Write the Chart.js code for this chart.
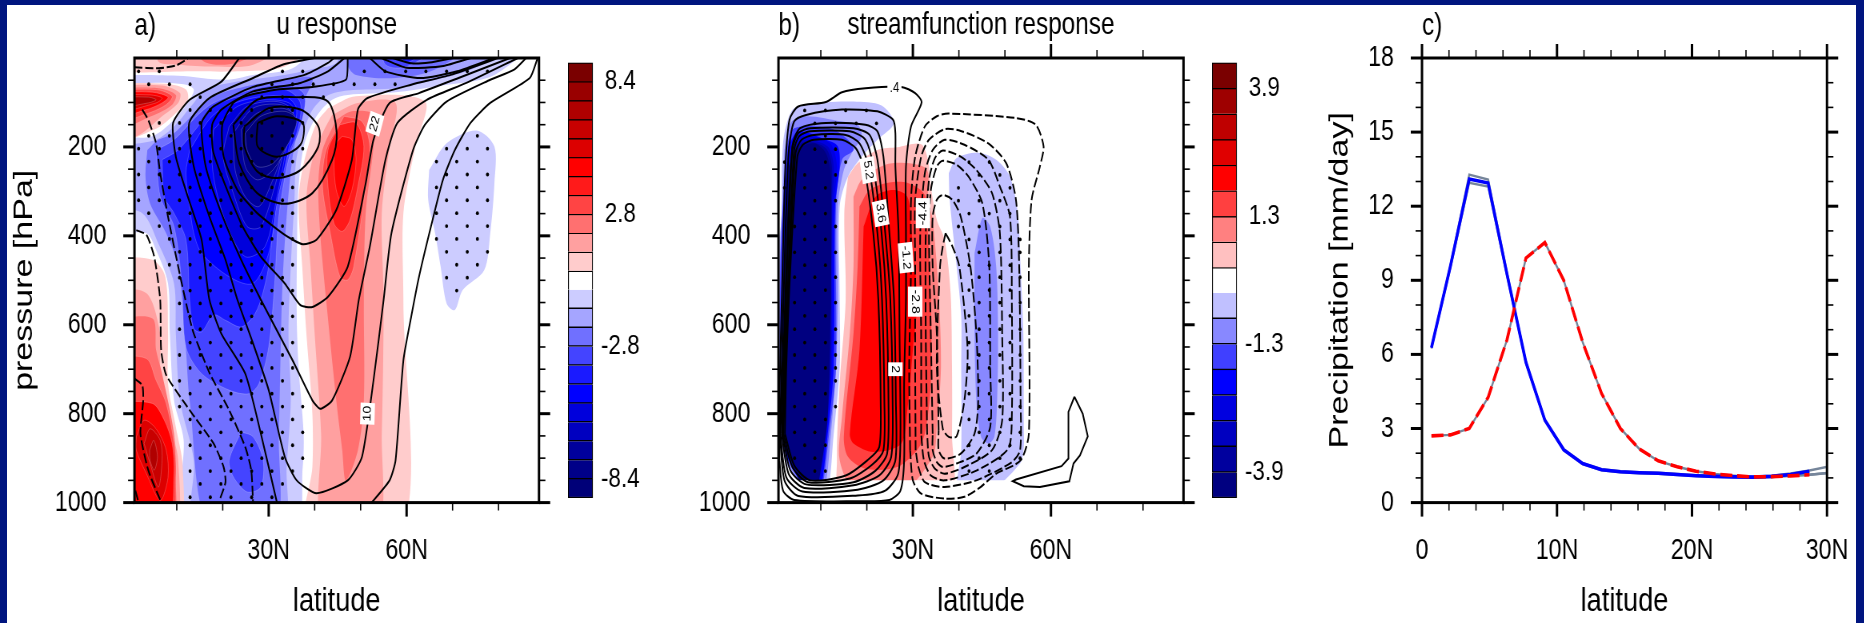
<!DOCTYPE html>
<html>
<head>
<meta charset="utf-8">
<title>u, streamfunction and precipitation response</title>
<script src="https://cdn.jsdelivr.net/npm/chart.js@4"></script>
<style>
    html, body { margin: 0; padding: 0; background: #00157f; overflow: hidden; }
    #sheet { position: absolute; left: 7px; top: 5px; width: 1849px; height: 618px; background: #fff; }
    /* the figure is squeezed sideways, so every canvas is too */
    canvas { position: absolute; top: 0; transform: scaleX(0.8); transform-origin: 0 0; }
</style>
</head>
<body>
<div id="sheet"></div>
<canvas id="panelA" width="690" height="623" style="left:8px"></canvas>
<canvas id="barA" width="112" height="623" style="left:560px"></canvas>
<canvas id="panelB" width="690" height="623" style="left:651.5px"></canvas>
<canvas id="barB" width="112" height="623" style="left:1204px"></canvas>
<canvas id="panelC" width="672" height="623" style="left:1318px"></canvas>
<script>
// Colour bars
const uBoxes = [8.8, 8, 7.2, 6.4, 5.6, 4.8, 4, 3.2, 2.4, 1.6, 0.8, 0, -0.8, -1.6, -2.4, -3.2, -4, -4.8, -5.6, -6.4, -7.2, -8, -8.8];
const uColors = ['#7a0000', '#990000', '#b00000', '#c80000', '#dc0000', '#ff0000', '#ff1a1a', '#ff4444', '#ff7070', '#ffa0a0', '#ffcccc', '#ffffff',
    '#ccccff', '#a5a5ff', '#7070ff', '#4444ff', '#1a1aff', '#0000ff', '#0000dc', '#0000c0', '#00009c', '#000088', '#000078'];
const uBoxLabels = [8.4, 2.8, -2.8, -8.4];
const psiBoxes = [4.16, 3.64, 3.12, 2.6, 2.08, 1.56, 1.04, 0.52, 0, -0.52, -1.04, -1.56, -2.08, -2.6, -3.12, -3.64, -4.16];
const psiColors = ['#7a0000', '#9e0000', '#bf0000', '#e00000', '#ff0000', '#ff4040', '#ff8080', '#ffc0c0', '#ffffff',
    '#c0c0ff', '#8888ff', '#4040ff', '#0000ff', '#0000e0', '#0000c0', '#00009e', '#000080'];
const psiBoxLabels = [3.9, 1.3, -1.3, -3.9];

// Axis ticks
const latMajor = [30, 60];
const latMinor = [10, 20, 40, 50, 70, 80];
const presMajor = [200, 400, 600, 800, 1000];
const presMinor = [50, 100, 150, 250, 300, 350, 450, 500, 550, 650, 700, 750, 850, 900, 950];
const precLatMajor = [0, 10, 20, 30];
const precLatMinor = [2, 4, 6, 8, 12, 14, 16, 18, 22, 24, 26, 28];
const precMajor = [0, 3, 6, 9, 12, 15, 18];
const precMinor = [1, 2, 4, 5, 7, 8, 10, 11, 13, 14, 16, 17];

// a) u response, filled regions: [level, [lat, pressure] outline]
const uRegions = [
    [0.8, [[0.8, 0], [40.4, 0], [33.5, 19], [23.2, 30], [14.6, 30], [0.8, 23]]],
    [1.6, [[6, 0], [35.2, 0], [26.6, 15], [18, 19], [10.3, 15], [6, 8]]],
    [2.4, [[12, 0], [31.8, 0], [23.2, 10], [16.3, 10]]],
    [-0.8, [[64.9, 252], [68.7, 192], [75.2, 163], [79.1, 199], [79.1, 282], [78.2, 394], [76.9, 477], [72.2, 522], [70.5, 567], [68.7, 552], [67.4, 469], [66.2, 394], [64.7, 319]]],
    [-0.8, [[0.8, 38], [10.3, 40], [20.6, 49], [26.6, 38], [35.2, 23], [42.9, 0], [86.8, 0], [79.1, 38], [66.2, 64], [57.6, 77], [47.2, 83], [43.8, 94], [40.4, 131], [37.8, 192], [36.5, 289], [36.2, 394], [36.1, 582], [36.5, 695], [37.6, 845], [37.4, 920], [35.6, 1000], [11.5, 1000], [11.5, 860], [9.4, 770], [8.5, 620], [8.1, 507], [5.5, 432], [3.4, 394], [0.8, 387], [0.8, 192], [4.7, 176], [9.4, 139], [12.8, 94], [13.7, 71], [12, 60], [7.7, 56], [0.8, 56]]],
    [-1.6, [[0.8, 338], [0.8, 214], [5.5, 184], [9.4, 154], [13.7, 101], [16.3, 71], [23.2, 53], [33.5, 38], [40.4, 23], [44.7, 11], [47.2, 0], [85.1, 0], [74.8, 23], [66.2, 49], [57.6, 68], [47.2, 73], [42.5, 86], [39.1, 124], [36.1, 222], [35.6, 319], [34.8, 469], [34.3, 620], [34.8, 770], [33.9, 920], [33.1, 1000], [13.7, 1000], [13.7, 905], [10.7, 770], [9.8, 620], [9.4, 507], [6, 417], [2.5, 349]]],
    [-2.4, [[3.6, 207], [6, 184], [9.4, 169], [14.6, 116], [18, 86], [24.9, 64], [33.5, 49], [39.5, 45], [37.8, 94], [36.9, 139], [35.2, 222], [33.9, 357], [33, 507], [32.6, 657], [32.2, 845], [31.3, 1000], [17.1, 1000], [12.8, 770], [12, 657], [10.3, 469], [7.7, 394], [4.2, 327], [3.2, 267]]],
    [-2.4, [[49, 0], [74.8, 0], [66.2, 26], [57.6, 45], [49, 38], [47.2, 15]]],
    [-3.2, [[54.1, 0], [68.7, 0], [60.1, 19], [55.4, 15]]],
    [-4, [[56.7, 0], [65.3, 0], [60.1, 10]]],
    [-3.2, [[5.5, 207], [9.4, 184], [14.6, 128], [18, 101], [24.9, 75], [33.5, 60], [37.8, 83], [36.9, 154], [34.3, 229], [32.2, 357], [31.3, 507], [30, 650], [27.9, 732], [25.7, 755], [21.4, 747], [15.4, 710], [12, 650], [11.1, 507], [9.4, 379], [6.4, 312]]],
    [-3.2, [[24, 841], [21.4, 905], [22.3, 942], [25.3, 976], [28.3, 965], [28.8, 905], [26.6, 852]]],
    [-4, [[6.8, 229], [10.3, 207], [14.6, 154], [18, 109], [24.9, 83], [33.5, 71], [36.9, 101], [36.1, 169], [33.5, 237], [31.3, 357], [30, 469], [28.3, 544], [26.6, 582], [24, 605], [20.6, 590], [18, 578], [15.4, 616], [13.7, 608], [12.8, 544], [12, 409], [9.4, 349], [7.3, 312]]],
    [-4.8, [[12.8, 207], [18, 128], [24.9, 94], [33.5, 86], [36.1, 116], [34.3, 207], [31.8, 327], [30, 439], [26.6, 507], [21.4, 492], [15.4, 439], [13.7, 394], [12.8, 334], [12, 259]]],
    [-5.6, [[18, 161], [23.2, 109], [30, 94], [35.2, 109], [33.9, 199], [31.8, 312], [29.2, 424], [24.9, 447], [21, 379], [18.4, 289], [17.6, 222]]],
    [-6.4, [[21.4, 154], [25.3, 109], [31.8, 98], [35.2, 120], [33.5, 199], [31.3, 289], [28.3, 379], [25.3, 379], [22.3, 304], [20.1, 222]]],
    [-7.2, [[22.3, 169], [26.6, 113], [32.6, 105], [35.2, 128], [33.5, 199], [30.9, 274], [27.9, 334], [24.9, 312], [22.7, 252]]],
    [-8, [[24, 161], [27.5, 124], [33, 113], [35.6, 131], [33.9, 199], [30.9, 252], [27.5, 274], [24.9, 244]]],
    [-8.8, [[24.9, 169], [28.3, 131], [33.5, 120], [36.1, 139], [34.3, 192], [30.9, 237], [27.5, 244], [25.3, 207]]],
    [0.8, [[42.9, 113], [49, 86], [64, 98], [61.9, 199], [59.3, 349], [59.3, 544], [59.1, 1000], [38.2, 1000], [39.5, 920], [39.5, 800], [38.2, 620], [37.3, 470], [36.5, 319], [37.8, 229], [40.4, 146]]],
    [1.6, [[43.8, 128], [49.4, 101], [57.6, 101], [56.3, 199], [54.6, 349], [55, 544], [54.6, 845], [53.7, 1000], [41.7, 1000], [41.4, 845], [40, 620], [39.1, 469], [38.2, 319], [39.5, 229], [41.7, 169]]],
    [2.4, [[44.7, 139], [48.1, 120], [52.8, 128], [52.8, 199], [51.1, 349], [50.7, 544], [50.7, 770], [49.4, 882], [46.8, 950], [46, 882], [44.7, 770], [42.5, 544], [41.2, 394], [40.8, 282], [41.7, 207]]],
    [3.2, [[46.4, 131], [50.3, 143], [52, 199], [51.1, 289], [48.5, 469], [47.2, 499], [45.5, 492], [43.4, 394], [41.7, 289], [42.5, 207]]],
    [4, [[45.5, 150], [49, 146], [50.7, 199], [49.4, 289], [47.7, 364], [46, 390], [44.2, 372], [42.9, 289], [42.9, 207]]],
    [4.8, [[46, 176], [48.1, 184], [49, 229], [48.1, 297], [46.4, 334], [44.7, 297], [44.2, 229], [44.7, 192]]],
    [0.8, [[0.8, 447], [4.7, 454], [7.5, 492], [8.1, 620], [8.1, 732], [9.8, 830], [11.3, 920], [10.3, 1000], [0.8, 1000]]],
    [1.6, [[0.8, 522], [3.4, 529], [6.4, 620], [6.4, 695], [8.1, 807], [10.3, 905], [9.4, 1000], [0.8, 1000]]],
    [2.4, [[0.8, 590], [4.7, 586], [5.5, 657], [6.8, 710], [9.4, 845], [9.8, 950], [9, 1000], [0.8, 1000]]],
    [3.2, [[0.8, 672], [3.4, 676], [5.5, 725], [7.7, 777], [9.4, 867], [9.8, 935], [8.5, 1000], [0.8, 1000]]],
    [4.8, [[0.8, 774], [4.7, 777], [7.3, 815], [9, 867], [9.4, 935], [8.1, 1000], [1.2, 1000], [0.8, 900]]],
    [5.6, [[1.2, 852], [2.9, 815], [5.5, 834], [7.7, 882], [8.1, 943], [6.4, 995], [3.4, 935], [1.2, 882]]],
    [6.4, [[2.9, 867], [4.2, 834], [6.4, 860], [6.8, 905], [6, 965], [4.2, 912]]],
    [7.2, [[4.1, 882], [5, 860], [5.8, 897], [5.1, 927], [4.2, 905]]],
    [0.8, [[0.8, 56], [7.7, 58], [12, 71], [12.4, 94], [9.4, 128], [5.1, 161], [0.8, 188]]],
    [1.6, [[0.8, 62], [6.8, 62], [10.7, 79], [10.3, 101], [6.8, 131], [1.2, 176], [0.8, 176]]],
    [2.4, [[0.8, 68], [6, 68], [9.8, 83], [9, 105], [5.1, 128], [0.8, 162]]],
    [3.2, [[0.8, 73], [5.5, 71], [9, 86], [7.7, 105], [3.8, 124], [0.8, 147]]],
    [4.8, [[0.8, 77], [4.7, 77], [8.1, 88], [6.8, 101], [3.4, 116], [0.8, 135]]],
    [5.6, [[0.8, 83], [4.2, 83], [6.8, 90], [5.5, 101], [0.8, 124]]],
    [7.2, [[0.8, 88], [3.8, 88], [5.5, 94], [3.8, 101], [0.8, 113]]]
];

// a) climatological u contours
const uSolidClosed = [
    [[27.6, 146], [31.8, 131], [37.4, 146], [36.9, 195], [31.8, 222], [27.6, 199]],
    [[24.7, 154], [30, 113], [36.9, 116], [40.8, 154], [40.8, 199], [36.9, 252], [31.8, 270], [27.5, 255], [24.7, 199]],
    [[22.3, 150], [27.5, 94], [36.1, 88], [42.9, 98], [44.8, 169], [43.8, 229], [39.5, 304], [33.5, 328], [27.5, 304], [23.6, 237]]
];
const uSolidOpen = [
    [[47.2, 0], [46.8, 49], [39.5, 65], [31.8, 71], [24.9, 86], [22.3, 101], [19.9, 150], [20.2, 222], [23.2, 297], [27.5, 349], [33.5, 398], [37.4, 419], [40.4, 409], [44.7, 342], [48.1, 229], [49.4, 116], [51.5, 90], [61, 60], [69.6, 38], [79.9, 0]],
    [[46.5, 0], [42.9, 30], [36.9, 56], [26.6, 75], [19.7, 116], [17.7, 150], [18, 214], [24, 372], [28.3, 447], [33.5, 507], [36.9, 556], [39.5, 560], [42.9, 537], [47.2, 469], [51.1, 282], [52.8, 184], [56.3, 101], [62.7, 79], [71.3, 45], [82.5, 0]],
    [[44.2, 0], [42.9, 11], [37.8, 38], [26.6, 65], [18, 109], [15.4, 146], [16.3, 244], [19.7, 349], [24, 454], [28.3, 544], [35.2, 680], [39.5, 770], [41.2, 789], [43.8, 770], [47.7, 672], [49.6, 544], [52, 424], [55.4, 229], [58, 146], [64.4, 94], [73, 56], [84.2, 0]],
    [[39.9, 0], [33, 15], [26.6, 45], [17.1, 90], [12.7, 146], [13.7, 244], [17.1, 357], [20.6, 454], [23.2, 544], [26.6, 642], [30, 747], [33.5, 897], [36.1, 950], [40.4, 979], [47.2, 950], [50.3, 897], [52.8, 725], [55, 544], [56.7, 394], [61.4, 207], [64, 150], [68.7, 98], [78.2, 49], [83.4, 26], [86, 0]],
    [[23.6, 0], [19.7, 53], [12.8, 94], [9.2, 146], [9.8, 222], [12.4, 312], [15.4, 409], [17.1, 544], [19.7, 620], [24.9, 710], [28.3, 845], [31.8, 1000]],
    [[88.5, 0], [86.8, 45], [78.2, 101], [73.9, 146], [70.5, 207], [67.9, 274], [65.3, 379], [62.7, 492], [61, 582], [59.3, 680], [57.6, 905], [56.3, 950], [52.4, 1000]],
    [[52, 0], [55.4, 30], [63, 45], [71, 30], [79, 0]],
    [[54.5, 0], [60, 22], [68, 18], [74, 0]],
    [[57, 0], [61, 12], [65, 10], [70, 0]]
];
const uDashedOpen = [
    [[0.8, 21], [6, 23], [9.8, 17], [12.4, 2]],
    [[2.5, 116], [3.8, 139], [5.5, 192], [6.4, 259], [8.1, 357], [10.3, 469], [12.7, 582], [13.7, 620], [17.2, 710], [21.4, 792], [24.9, 875], [26.2, 927], [26.6, 1000]],
    [[1.2, 387], [3.4, 398], [5.1, 447], [6.4, 544], [6.6, 657], [7.7, 713], [12.8, 792], [18, 867], [20.2, 920], [20.6, 954], [19.3, 995]],
    [[0.8, 721], [2.5, 736], [2.7, 770], [2.1, 845], [3.8, 927], [6.6, 999]],
    [[1, 973], [1.7, 1000]]
];
const uLabels = [['22', 53.1, 148], ['10', 51.5, 800]];
const uLabelAngles = [-72, -88];

// a) stippling, one row per pressure level: [pressure, latitudes]
const uDots = [
    [30, [1.7, 6.2, 33, 37.4, 50.8, 55.3, 59.8, 64.2, 68.7, 73.2, 77.6]],
    [59, [3.9, 8.4, 12.9, 30.7, 35.2, 39.7, 44.1, 48.6, 53.1, 57.5]],
    [88, [15.1, 28.5, 33, 37.4, 41.9]],
    [117, [12.9, 17.3, 21.8, 26.3, 30.7, 35.2]],
    [146, [6.2, 10.6, 15.1, 19.6, 24, 28.5, 33, 37.4]],
    [175, [3.9, 8.4, 12.9, 17.3, 21.8, 26.3, 30.7, 35.2, 75.4]],
    [204, [1.7, 6.2, 10.6, 15.1, 19.6, 24, 28.5, 33, 37.4, 68.7, 73.2, 77.6]],
    [233, [3.9, 8.4, 12.9, 17.3, 21.8, 26.3, 30.7, 35.2, 66.5, 70.9, 75.4]],
    [262, [1.7, 6.2, 10.6, 15.1, 19.6, 24, 28.5, 33, 68.7, 73.2, 77.6]],
    [291, [3.9, 8.4, 12.9, 17.3, 21.8, 26.3, 30.7, 35.2, 66.5, 70.9, 75.4]],
    [320, [1.7, 6.2, 10.6, 15.1, 19.6, 24, 28.5, 33, 68.7, 73.2, 77.6]],
    [349, [3.9, 8.4, 12.9, 17.3, 21.8, 26.3, 30.7, 35.2, 66.5, 70.9, 75.4]],
    [378, [6.2, 10.6, 15.1, 19.6, 24, 28.5, 33, 68.7, 73.2, 77.6]],
    [407, [8.4, 12.9, 17.3, 21.8, 26.3, 30.7, 35.2, 66.5, 70.9, 75.4]],
    [436, [10.6, 15.1, 19.6, 24, 28.5, 33, 68.7, 73.2, 77.6]],
    [465, [8.4, 12.9, 17.3, 21.8, 26.3, 30.7, 35.2, 70.9, 75.4]],
    [494, [10.6, 15.1, 19.6, 24, 28.5, 33, 68.7, 73.2]],
    [523, [12.9, 17.3, 21.8, 26.3, 30.7, 35.2, 70.9]],
    [552, [10.6, 15.1, 19.6, 24, 28.5, 33]],
    [581, [12.9, 17.3, 21.8, 26.3, 30.7, 35.2]],
    [610, [10.6, 15.1, 19.6, 24, 28.5, 33]],
    [640, [12.9, 17.3, 21.8, 26.3, 30.7, 35.2]],
    [668, [10.6, 15.1, 19.6, 24, 28.5, 33]],
    [697, [12.9, 17.3, 21.8, 26.3, 30.7, 35.2]],
    [726, [10.6, 15.1, 19.6, 24, 28.5, 33]],
    [755, [12.9, 17.3, 21.8, 26.3, 30.7, 35.2]],
    [784, [10.6, 15.1, 19.6, 24, 28.5, 33, 37.4]],
    [813, [12.9, 17.3, 21.8, 26.3, 30.7, 35.2]],
    [842, [15.1, 19.6, 24, 28.5, 33, 37.4]],
    [871, [12.9, 17.3, 21.8, 26.3, 30.7, 35.2]],
    [900, [15.1, 19.6, 24, 28.5, 33, 37.4]],
    [929, [12.9, 17.3, 21.8, 26.3, 30.7, 35.2]],
    [958, [15.1, 19.6, 24, 28.5, 33]],
    [988, [12.9, 17.3, 21.8, 26.3, 30.7]]
];

// b) streamfunction response, filled regions (the data stops at 950 hPa, see psiFloor)
const psiRegions = [
    [-0.52, [[1.5, 244], [2.1, 169], [4.2, 113], [11.1, 100], [17.1, 98], [23.2, 107], [25.9, 146], [22.3, 184], [18.9, 222], [15.9, 267], [14.1, 334], [14.1, 544], [14.1, 695], [12.8, 845], [11.2, 985], [8, 985], [2.5, 913], [1.2, 845], [0.8, 620], [1.1, 394]]],
    [-1.04, [[2.1, 207], [3.4, 146], [6.8, 131], [14.6, 143], [18, 150], [18.9, 176], [16.7, 214], [15, 252], [13.7, 334], [13.7, 544], [13.3, 695], [12.2, 845], [10.5, 985], [8, 985], [2.7, 909], [1.3, 845], [1.1, 469]]],
    [-1.56, [[2.5, 199], [4.2, 158], [12, 158], [15.9, 184], [17.1, 207], [14.6, 229], [13.3, 334], [13.3, 695], [11.8, 845], [9.9, 985], [8, 985], [2.9, 906], [1.5, 845], [1.2, 469]]],
    [-2.08, [[2.9, 199], [5.1, 165], [11.1, 184], [13.7, 199], [14.1, 244], [13.1, 334], [12.8, 695], [11.5, 845], [9.7, 985], [8, 985], [3, 905], [1.7, 845], [1.7, 394]]],
    [-2.6, [[3.4, 199], [6, 176], [12, 192], [13.5, 244], [12.7, 334], [12.4, 695], [11.2, 845], [9.3, 985], [8.2, 985], [3.2, 903], [1.8, 845], [1.8, 394]]],
    [-3.12, [[3.6, 203], [6.4, 184], [11.5, 199], [12.8, 244], [12.4, 334], [12.2, 695], [11, 845], [9, 985], [8.4, 985], [3.4, 901], [2, 845], [2, 394]]],
    [-3.64, [[3.8, 203], [6.8, 188], [11.1, 203], [12.4, 244], [12.2, 334], [12, 695], [10.7, 845], [8.9, 985], [8.6, 985], [3.6, 899], [2.2, 845], [2.2, 394]]],
    [-4.16, [[3, 244], [4.7, 207], [8.5, 192], [11.1, 214], [12.2, 267], [12.2, 544], [12, 620], [11.5, 807], [10.3, 905], [8.8, 985], [7.5, 985], [3.8, 920], [2.5, 882], [2.1, 770], [2.3, 469]]],
    [0.52, [[15.9, 267], [18, 237], [22.3, 207], [26.6, 201], [31.8, 194], [33.3, 229], [33.9, 289], [35.2, 364], [36.9, 409], [38.2, 529], [38.5, 695], [38.5, 845], [38, 985], [14.4, 985], [13.5, 905], [14.1, 732], [15.4, 544], [15.1, 349]]],
    [1.04, [[17.1, 312], [18.9, 274], [24, 240], [29.2, 237], [33.1, 252], [33.3, 319], [34.3, 364], [35.6, 529], [36.1, 695], [35.2, 830], [34.3, 897], [27, 985], [18, 985], [14.1, 905], [14.6, 807], [16.3, 620], [17.1, 469]]],
    [1.56, [[18.4, 334], [20.6, 297], [24.9, 280], [29.2, 282], [32.6, 308], [33.1, 364], [33.9, 544], [33.9, 732], [32.6, 845], [30.9, 882], [26.6, 920], [19.7, 924], [15.9, 897], [15, 852], [17.1, 620], [18, 469]]],
    [2.08, [[19.3, 379], [21.9, 312], [25.7, 297], [28.8, 312], [29.6, 379], [30.9, 544], [30, 657], [28.8, 792], [27.5, 867], [21.4, 886], [17.1, 867], [16.3, 845], [18.4, 657]]],
    [-0.52, [[37.8, 259], [39.5, 225], [44.2, 213], [48.1, 229], [51.1, 267], [52.8, 349], [53.4, 469], [54, 620], [54.1, 830], [54.1, 875], [53.3, 912], [45.5, 985], [39.7, 985], [40.5, 882], [40.5, 695], [40.5, 582], [39.5, 469], [38, 319]]],
    [-1.04, [[43.4, 439], [45.1, 360], [46.8, 379], [48.1, 469], [48.5, 620], [48.3, 770], [47.7, 852], [46.4, 867], [44.8, 852], [43.8, 770], [43.4, 620]]]
];
const psiFloor = [[-5, 950], [95, 950], [95, 1060], [-5, 1060]];

// b) contours, all closed
const psiSolid = [
    [[1, 905], [1.8, 973], [4.2, 994], [18, 997], [24.9, 994], [27.3, 973], [28.1, 905], [28.1, 732], [28.5, 544], [28.5, 394], [28.5, 244], [29.6, 154], [31.9, 100], [30.5, 79], [27.5, 65], [19.7, 68], [14.6, 77], [11.1, 99], [5.1, 109], [3.2, 139], [2.3, 244], [1.7, 469], [1, 770]],
    [[1.1, 845], [2.1, 950], [5.1, 985], [18, 984], [24, 973], [26.8, 935], [27.3, 845], [27.1, 620], [26.9, 394], [26.2, 244], [26.2, 169], [25.7, 139], [22.3, 120], [14.6, 116], [6.8, 128], [4.2, 143], [3, 214], [2.1, 469], [1.5, 695]],
    [[1.2, 845], [2.5, 943], [6, 975], [18, 971], [23.6, 950], [26.2, 905], [26.3, 770], [25.9, 544], [24.9, 394], [23.6, 222], [22.3, 165], [19.7, 150], [11.1, 146], [5.5, 158], [3.8, 199], [2.5, 469], [1.8, 695]],
    [[1.5, 845], [3, 935], [6.4, 967], [17.1, 961], [22.7, 939], [25.3, 897], [25.6, 770], [25.1, 544], [24, 394], [22.3, 229], [20.6, 173], [17.1, 158], [7.7, 158], [5.1, 169], [3.8, 207], [2.7, 469], [2, 695]],
    [[1.7, 845], [3.4, 928], [6.8, 959], [17.1, 954], [21.9, 928], [24.4, 890], [24.7, 770], [24.2, 544], [23.2, 394], [21.4, 244], [19.7, 184], [16.3, 165], [7.7, 165], [5.3, 176], [4.2, 207], [3, 469], [2.2, 695]],
    [[1.9, 845], [3.8, 920], [7.2, 954], [16.3, 946], [21, 916], [23.6, 882], [23.8, 770], [23.3, 544], [22.3, 394], [20.4, 244], [18.4, 192], [15.4, 173], [8.5, 173], [5.8, 184], [4.5, 214], [3.2, 469], [2.3, 695]],
    [[2.2, 845], [4.2, 916], [7.7, 950], [15.4, 939], [20.1, 905], [22.7, 875], [23, 770], [22.5, 544], [21.4, 394], [19.5, 252], [17.6, 203], [14.6, 184], [8.5, 184], [6.1, 195], [4.9, 222], [3.4, 469], [2.5, 695]]
];
const psiDashed = [
    [[29.4, 882], [29.2, 695], [29.6, 469], [29.6, 319], [30.5, 222], [32.6, 154], [35.2, 131], [37.8, 125], [52.4, 135], [56.7, 150], [58.4, 199], [57.6, 244], [55.8, 319], [55.2, 469], [55.2, 845], [53.4, 905], [48.1, 935], [44.7, 965], [41.2, 987], [36.9, 991], [31.8, 980], [30, 950]],
    [[30.6, 882], [30.5, 695], [30.5, 469], [30.5, 319], [31.8, 222], [33.5, 184], [36.9, 160], [40.4, 164], [46.4, 192], [50.3, 237], [52.4, 319], [53.1, 469], [53.4, 770], [53.3, 882], [51.5, 909], [43.8, 950], [36.9, 965], [32.6, 954], [31.2, 920]],
    [[31.8, 845], [31.8, 620], [31.6, 394], [32.6, 259], [34.3, 207], [36.9, 184], [41.2, 195], [46.4, 229], [48.9, 289], [51.1, 357], [51.5, 544], [51.5, 807], [50.7, 879], [43.8, 928], [36.9, 950], [33.9, 939], [32.4, 905]],
    [[33.1, 845], [32.8, 620], [32.8, 394], [33.5, 274], [34.8, 225], [36.5, 208], [40.4, 222], [43.8, 252], [47.2, 304], [48.9, 394], [49.4, 620], [49.4, 815], [47.2, 882], [41.2, 920], [36.9, 935], [34.8, 924], [33.5, 897]],
    [[34.3, 845], [33.9, 620], [33.5, 394], [33.9, 297], [35.2, 244], [36.5, 231], [39.5, 240], [42.1, 267], [45.1, 327], [46.6, 469], [46.8, 695], [46.8, 830], [43.8, 890], [39.5, 912], [36.5, 920], [35.2, 909], [34.3, 882]],
    [[35.6, 837], [35.2, 620], [34.3, 469], [34.3, 357], [35.2, 319], [36.5, 308], [38.6, 319], [40.4, 357], [42.5, 469], [43.8, 620], [44.2, 770], [43.4, 845], [40.4, 890], [36.9, 901], [35.6, 882]],
    [[37.1, 394], [38.6, 424], [40.1, 469], [41.9, 657], [41.2, 770], [39.5, 851], [37.8, 852], [36.5, 834], [35.2, 695], [35.9, 469], [36.5, 424]]
];
const psiIsland = [[65.1, 762], [63.8, 796], [63.8, 901], [62.3, 918], [52.4, 948], [51.7, 952], [54.1, 963], [57.6, 965], [64, 952], [64.9, 912], [66.3, 894], [68, 851], [66.9, 800], [65.1, 762]];
const psiLabels = [['.4', 26, 68], ['5.2', 20.3, 252], ['3.6', 23, 349], ['-1.2', 28.5, 449], ['-2.8', 30.5, 548], ['2', 26.2, 700], ['-4.4', 32.2, 349]];
const psiLabelAngles = [0, 80, 80, 85, 90, 90, -90];

// b) stippling
const psiDots = [
    [118, [6.5, 11, 15.4, 19.9]],
    [147, [8.7, 13.2, 17.7, 22.1]],
    [175, [11]],
    [205, [8.7, 13.2]],
    [234, [2.1, 11, 15.4, 42.2, 46.6]],
    [263, [6.5, 13.2, 44.4, 48.9]],
    [292, [2.1, 6.5, 11, 39.9, 51.1]],
    [321, [8.7, 13.2, 39.9, 44.4, 48.9]],
    [350, [6.5, 11, 42.2, 46.6, 51.1]],
    [379, [4.3, 8.7, 13.2, 39.9, 44.4, 48.9]],
    [408, [6.5, 11, 42.2, 51.1, 53.3]],
    [437, [4.3, 8.7, 13.2, 44.4, 48.9, 53.3]],
    [466, [6.5, 11, 42.2, 46.6, 51.1]],
    [493, [4.3, 8.7, 13.2, 44.4, 48.9, 53.3]],
    [522, [6.5, 11, 42.2, 46.6, 51.1]],
    [550, [4.3, 8.7, 13.2, 44.4, 48.9, 53.3]],
    [580, [6.5, 11, 42.2, 46.6, 51.1]],
    [610, [4.3, 8.7, 13.2, 44.4, 48.9, 53.3]],
    [640, [6.5, 11, 13.2, 42.2, 46.6, 51.1]],
    [668, [4.3, 8.7, 13.2, 44.4, 48.9, 53.3]],
    [697, [6.5, 11, 13.2, 42.2, 46.6, 51.1]],
    [726, [4.3, 8.7, 13.2, 44.4, 48.9, 53.3]],
    [755, [6.5, 11, 42.2, 46.6, 51.1]],
    [784, [4.3, 8.7, 13.2, 44.4, 48.9, 53.3]],
    [813, [6.5, 11, 42.2, 46.6, 51.1]],
    [842, [4.3, 8.7, 44.4, 48.9, 53.3]],
    [871, [6.5, 11, 42.2, 46.6, 51.1]],
    [900, [4.3, 8.7, 44.4, 48.9, 53.3]],
    [929, [8.7, 11, 42.2, 46.6]]
];

// c) precipitation
const precLat = [0.7, 2.1, 3.5, 4.9, 6.3, 7.7, 9.1, 10.5, 11.9, 13.3, 14.7, 16.1, 17.5, 18.9, 20.3, 21.7, 23.1, 24.5, 25.9, 27.3, 28.7, 30.1];
const precBlue = [6.27, 9.56, 13.1, 12.94, 9.24, 5.68, 3.34, 2.14, 1.58, 1.33, 1.25, 1.21, 1.19, 1.14, 1.09, 1.06, 1.04, 1.03, 1.06, 1.14, 1.27, null];
const precBlueUpper = [6.3, 9.6, 13.28, 13.08, 9.3, 5.7, 3.36, 2.16, 1.6, 1.35, 1.27, 1.23, 1.21, 1.16, 1.11, 1.08, 1.06, 1.05, 1.09, 1.18, 1.3, 1.46];
const precBlueLower = [6.24, 9.5, 12.95, 12.8, 9.18, 5.65, 3.32, 2.12, 1.56, 1.31, 1.23, 1.19, 1.17, 1.12, 1.07, 1.04, 1.02, 1.01, 1.03, 1.08, 1.13, 1.2];
const precRed = [2.7, 2.74, 3, 4.26, 6.6, 9.9, 10.53, 9, 6.5, 4.42, 3, 2.17, 1.69, 1.45, 1.27, 1.16, 1.09, 1.04, 1.05, 1.08, 1.13, null];
const precRedSpread = [2.7, 2.74, 3, 4.26, 6.6, 9.9, 10.53, 9, 6.5, 4.42, 3, 2.17, 1.69, 1.45, 1.27, 1.16, 1.09, 1.04, 1.05, 1.08, 1.13, 1.2];

const FONT = 'Liberation Sans';

function toPoints(list) {
    return list.map(p => ({ x: p[0], y: p[1] }));
}

function closeShape(list) {
    return toPoints(list.concat([list[0]]));
}

// Shapes that touch the frame run on past it, so the curve does not round off inside the plot
function pastFrame(list) {
    return list.map(p => [p[0] <= 0.8 ? -5 : p[0], p[1] >= 1000 ? 1060 : (p[1] <= 0 ? -40 : p[1])]);
}

function regionSets(regions, boxes, colors, outlined) {
    return regions.map(r => ({
        data: closeShape(pastFrame(r[1])),
        showLine: true,
        fill: 'shape',
        tension: 0.3,
        borderColor: 'rgba(255,255,255,0.3)',
        borderWidth: outlined && Math.abs(r[0]) >= 3.2 ? 0.7 : 0,
        pointRadius: 0,
        backgroundColor: colors[boxes.indexOf(r[0])]
    }));
}

function contourSets(lines, closed, dashed, tension) {
    return lines.map(line => ({
        data: closed ? closeShape(line) : toPoints(line),
        showLine: true,
        fill: false,
        tension: tension,
        borderColor: '#000',
        borderWidth: 2,
        borderDash: dashed ? [10, 3.5] : [],
        pointRadius: 0
    }));
}

function dotSet(rows) {
    const pts = [];
    rows.forEach(row => row[1].forEach(lat => pts.push({ x: lat, y: row[0] })));
    return { data: pts, showLine: false, pointRadius: 1.9, pointBackgroundColor: '#000', pointBorderWidth: 0 };
}

// Later entries have to be painted on top
function stackOrder(sets) {
    sets.forEach((s, i) => { s.order = sets.length - i; });
    return sets;
}

// Frame, outward tick marks, corner titles and contour labels
const framePlugin = {
    id: 'frame',
    afterDraw(chart, args, o) {
        if (!o.show) return;
        const ctx = chart.ctx;
        const a = chart.chartArea;
        const xs = chart.scales.x;
        const ys = chart.scales.y;
        ctx.save();
        ctx.strokeStyle = '#000';
        ctx.lineCap = 'butt';

        function tick(x1, y1, x2, y2, w) {
            ctx.lineWidth = w;
            ctx.beginPath();
            ctx.moveTo(x1, y1);
            ctx.lineTo(x2, y2);
            ctx.stroke();
        }
        o.xMinor.forEach(v => {
            const x = xs.getPixelForValue(v);
            tick(x, a.bottom, x, a.bottom + o.xMinorLen, 1.6);
            tick(x, a.top, x, a.top - o.xMinorLen, 1.6);
        });
        o.xMajor.forEach(v => {
            const x = xs.getPixelForValue(v);
            tick(x, a.bottom, x, a.bottom + 14, 3);
            tick(x, a.top, x, a.top - 14, 3);
        });
        o.yMinor.forEach(v => {
            const y = ys.getPixelForValue(v);
            tick(a.left, y, a.left - 8, y, 1.6);
            tick(a.right, y, a.right + 8, y, 1.6);
        });
        o.yMajor.forEach(v => {
            const y = ys.getPixelForValue(v);
            tick(a.left, y, a.left - 14, y, 3);
            tick(a.right, y, a.right + 14, y, 3);
        });
        ctx.lineWidth = 3;
        ctx.strokeRect(a.left, a.top, a.right - a.left, a.bottom - a.top);

        ctx.fillStyle = '#000';
        ctx.textBaseline = 'middle';
        ctx.font = '30.5px "' + FONT + '"';
        if (o.corner) {
            ctx.textAlign = 'left';
            ctx.fillText(o.corner, a.left, 27);
        }
        if (o.title) {
            ctx.textAlign = 'center';
            ctx.fillText(o.title, (a.left + a.right) / 2, 26);
        }

        ctx.font = '14px "' + FONT + '"';
        ctx.textAlign = 'center';
        (o.labels || []).forEach((l, i) => {
            const w = ctx.measureText(l[0]).width + 6;
            ctx.save();
            ctx.translate(xs.getPixelForValue(l[1]), ys.getPixelForValue(l[2]));
            ctx.rotate(o.angles[i] * Math.PI / 180);
            ctx.fillStyle = '#fff';
            ctx.fillRect(-w / 2, -9, w, 18);
            ctx.fillStyle = '#000';
            ctx.fillText(l[0], 0, 0);
            ctx.restore();
        });
        ctx.restore();
    }
};

function fixedAxis(axis, size) {
    axis[axis.axis === 'x' ? 'height' : 'width'] = size;
    axis.paddingLeft = axis.paddingRight = axis.paddingTop = axis.paddingBottom = 0;
}

function axisOptions(min, max, ticks, fmt, size, extra) {
    return Object.assign({
        type: 'linear',
        min: min,
        max: max,
        grid: { display: false, drawTicks: false },
        border: { display: false },
        afterBuildTicks: s => { s.ticks = ticks.map(v => ({ value: v })); },
        afterFit: s => fixedAxis(s, size)
    }, extra, {
        ticks: Object.assign({
            autoSkip: false,
            maxRotation: 0,
            color: '#000',
            font: { family: FONT, size: 29 },
            callback: fmt
        }, extra.ticks)
    });
}

function latLabel(v) {
    return v === 0 ? '0' : v + 'N';
}

function makePanel(id, sets, plotLeft, plotRight, yTitle, yTitlePad, xMin, xMax, yMin, yMax, yReverse, frame) {
    const canvas = document.getElementById(id);
    return new Chart(canvas, {
        type: 'scatter',
        data: { datasets: stackOrder(sets) },
        plugins: [framePlugin],
        options: {
            responsive: false,
            animation: false,
            layout: { padding: { left: 0, top: 58, right: canvas.width - plotRight, bottom: 0 } },
            plugins: { legend: { display: false }, tooltip: { enabled: false }, frame: frame },
            scales: {
                x: axisOptions(xMin, xMax, frame.xMajor, latLabel, 120.4, {
                    ticks: { padding: 31 },
                    title: { display: true, text: 'latitude', color: '#000', font: { family: FONT, size: 34 }, padding: { top: 0, bottom: 1 } }
                }),
                y: axisOptions(yMin, yMax, frame.yMajor, v => String(v), plotLeft, {
                    reverse: yReverse,
                    ticks: { padding: 35 },
                    title: { display: !!yTitle, text: yTitle, color: '#000', font: { family: FONT, size: 34 }, padding: { top: yTitlePad, bottom: 0 } }
                })
            }
        }
    });
}

function makeColorBar(id, boxes, colors, halfStep, labels) {
    const canvas = document.getElementById(id);
    const top = boxes[0] + halfStep;
    return new Chart(canvas, {
        type: 'bar',
        data: {
            labels: [''],
            datasets: boxes.map((b, i) => ({
                data: [[b - halfStep, b + halfStep]],
                backgroundColor: colors[i],
                borderColor: '#000',
                borderWidth: 1.5,
                barPercentage: 1,
                categoryPercentage: 1,
                grouped: false
            }))
        },
        options: {
            responsive: false,
            animation: false,
            layout: { padding: { left: 10, top: 62.5, right: 0, bottom: 125 } },
            plugins: { legend: { display: false }, tooltip: { enabled: false } },
            scales: {
                x: { display: false },
                y: axisOptions(-top, top, labels, v => String(v), canvas.width - 41.25, {
                    position: 'right',
                    ticks: { padding: 10, crossAlign: 'center', font: { family: FONT, size: 28 } }
                })
            }
        }
    });
}

// a) u response
makePanel('panelA',
    regionSets(uRegions, uBoxes, uColors, true)
        .concat(contourSets(uSolidClosed, true, false, 0.3))
        .concat(contourSets(uSolidOpen, false, false, 0.2))
        .concat(contourSets(uDashedOpen, false, true, 0.2))
        .concat([dotSet(uDots)]),
    158.1, 663.75, 'pressure [hPa]', 0, 0.8, 88.8, 0, 1000, true,
    { show: true, xMajor: latMajor, xMinor: latMinor, xMinorLen: 8, yMajor: presMajor, yMinor: presMinor, corner: 'a)', title: 'u response', labels: uLabels, angles: uLabelAngles });
makeColorBar('barA', uBoxes, uColors, 0.4, uBoxLabels);

// b) streamfunction response
const psiFloorSet = regionSets([[0, psiFloor]], psiBoxes, psiColors, false);
psiFloorSet[0].tension = 0;
makePanel('panelB',
    regionSets(psiRegions, psiBoxes, psiColors, false)
        .concat(psiFloorSet)
        .concat(contourSets(psiSolid, true, false, 0.25))
        .concat(contourSets(psiDashed, true, true, 0.25))
        .concat(contourSets([psiIsland], false, false, 0))
        .concat([dotSet(psiDots)]),
    158.1, 664.4, '', 0, 0.8, 88.8, 0, 1000, true,
    { show: true, xMajor: latMajor, xMinor: latMinor, xMinorLen: 8, yMajor: presMajor, yMinor: presMinor, corner: 'b)', title: 'streamfunction response', labels: psiLabels, angles: psiLabelAngles });
makeColorBar('barB', psiBoxes, psiColors, 0.26, psiBoxLabels);

// c) precipitation
function precSet(values, color, width, dash) {
    return {
        data: precLat.map((lat, i) => ({ x: lat, y: values[i] })),
        showLine: true,
        fill: false,
        tension: 0,
        spanGaps: false,
        borderColor: color,
        borderWidth: width,
        borderDash: dash,
        pointRadius: 0
    };
}
makePanel('panelC',
    [
        precSet(precBlueUpper, '#75859a', 2.4, []),
        precSet(precBlueLower, '#75859a', 2.4, []),
        precSet(precRedSpread, '#75859a', 2.4, []),
        precSet(precBlue, '#0000ff', 3.6, []),
        precSet(precRed, '#ff0000', 3.6, [15, 6])
    ],
    130, 636.25, 'Precipitation [mm/day]', 7, 0, 30, 0, 18, false,
    { show: true, xMajor: precLatMajor, xMinor: precLatMinor, xMinorLen: 8, yMajor: precMajor, yMinor: precMinor, corner: 'c)', title: '', angles: [] });
</script>
</body>
</html>
